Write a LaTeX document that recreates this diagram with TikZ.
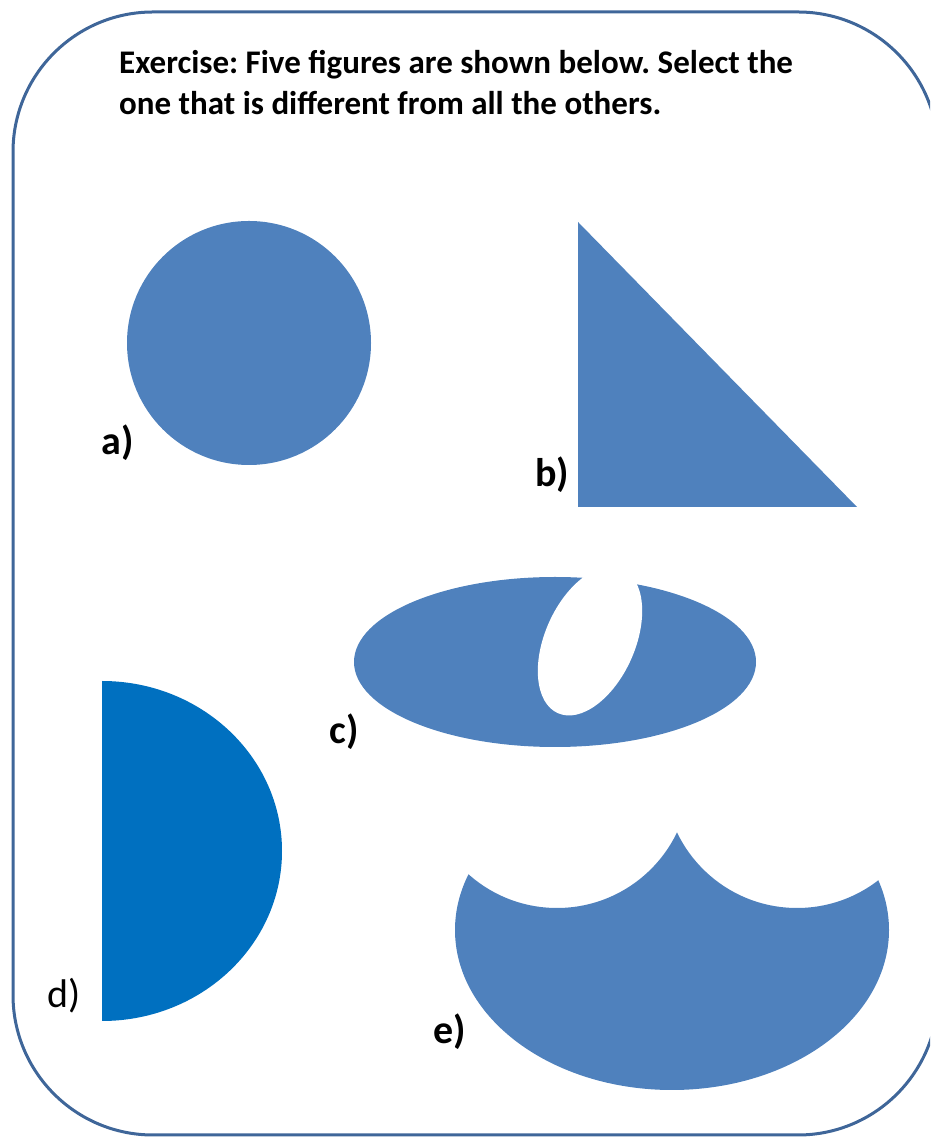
\documentclass[tikz,border=0pt]{standalone}
\usepackage{fontspec}
\setmainfont{Carlito}
\frenchspacing
\definecolor{shapeblue}{HTML}{4F81BD}
\definecolor{dblue}{HTML}{0070C0}
\definecolor{frameblue}{HTML}{3F6699}
\tikzset{
  shape fill/.style={fill=shapeblue},
  lbl/.style={font=\fontsize{40}{44}\selectfont\bfseries, inner sep=0pt},
  lblreg/.style={font=\fontsize{40}{44}\selectfont, inner sep=0pt},
  title/.style={font=\fontsize{33}{41}\selectfont\bfseries, align=left, anchor=base west, inner sep=0pt},
  frame/.style={draw=frameblue, line width=3pt, rounded corners=140pt}
}
\begin{document}
\begin{tikzpicture}[x=1pt,y=1pt]
\useasboundingbox (0,0) rectangle (930,1138);
\clip (0,0) rectangle (930,1138);
% title (anchor = baseline of the last line)
\node[title] (title) at (119,1023) {Exercise: Five figures are shown below. Select the\\one that is different from all the others.};
% a) circle
\fill[shape fill] (249,795) circle[radius=122];
\node[lbl] (la) at (118,695) {a)};
% b) triangle
\fill[shape fill] (578,916) -- (578,631) -- (857,631) -- cycle;
\node[lbl] (lb) at (552,663) {b)};
% e) scalloped shape: ellipse minus two circles
\begin{scope}[even odd rule]
  \clip (0,0) rectangle (930,1138) (557,363) circle[radius=133];
  \begin{scope}[even odd rule]
    \clip (0,0) rectangle (930,1138) (797,363) circle[radius=133];
    \fill[shape fill] (672,208) ellipse[x radius=217, y radius=160];
  \end{scope}
\end{scope}
\node[lbl] (le) at (450,106) {e)};
% c) ellipse with hole
\fill[shape fill] (555,476) ellipse[x radius=201, y radius=85];
\fill[white, rotate around={66:(590,497)}] (590,497) ellipse[x radius=79, y radius=45];
\node[lbl] (lc) at (344,406) {c)};
% d) half ellipse
\fill[dblue] (102,117) arc[start angle=-90, end angle=90, x radius=180, y radius=170] -- cycle;
\node[lblreg] (ld) at (64,142) {d)};
% frame
\draw[frame] (13,3) rectangle (938,1126);
\end{tikzpicture}
\end{document}
